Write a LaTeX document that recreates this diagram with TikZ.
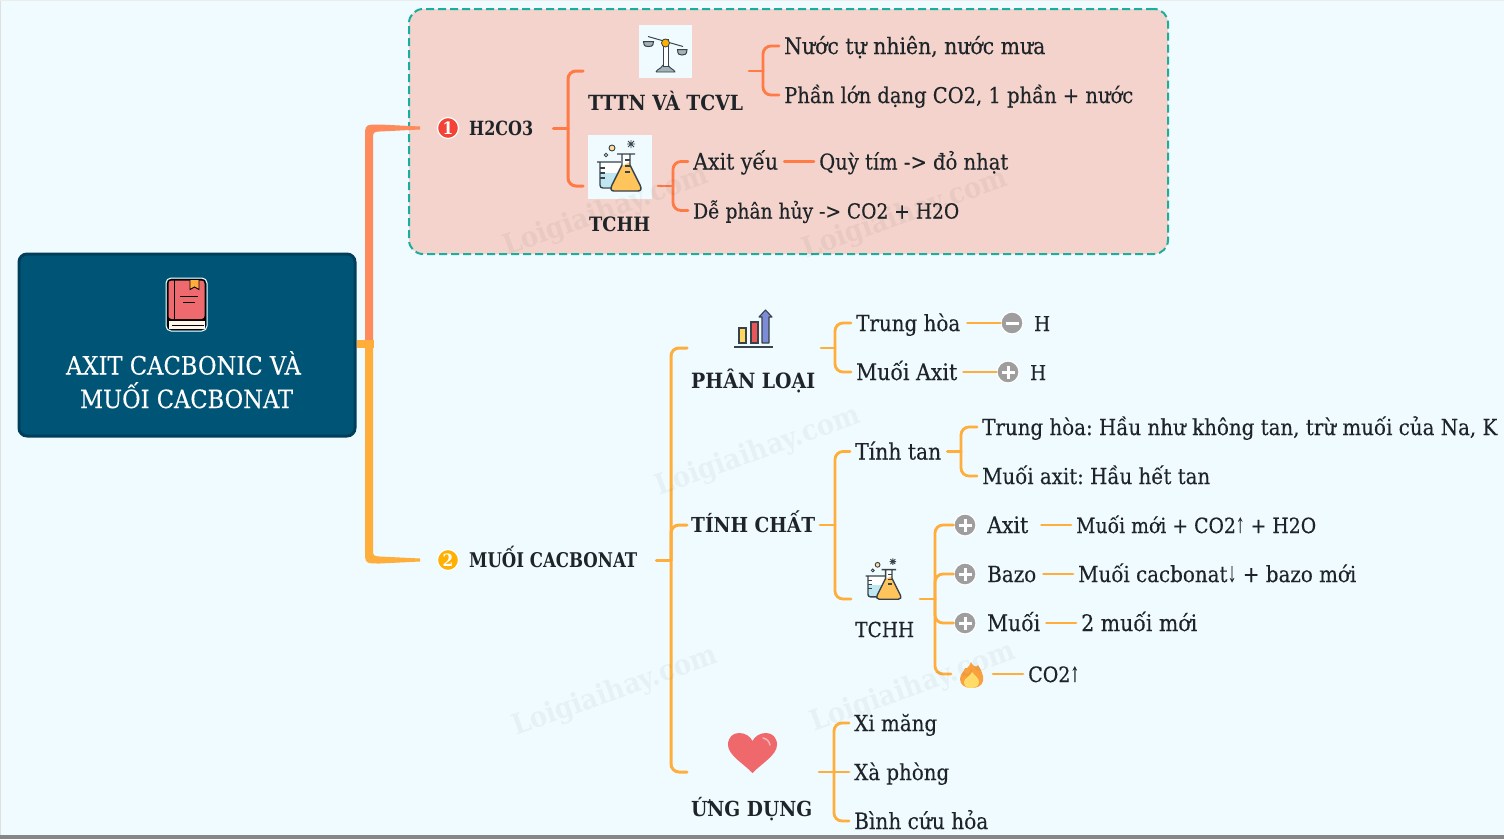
\documentclass[tikz,border=0pt]{standalone}
\usepackage{fontspec}
\usepackage{graphicx}
\setmainfont{DejaVu Serif Condensed}[UprightFeatures={FakeBold=0.25}]
\frenchspacing
\definecolor{bgc}{HTML}{F0FBFF}
\definecolor{boxc}{HTML}{F3D3CB}
\definecolor{teal1}{HTML}{1AAE9F}
\definecolor{rootc}{HTML}{005476}
\definecolor{rootb}{HTML}{003F5C}
\definecolor{up}{HTML}{FF7A45}
\definecolor{upmain}{HTML}{FF8A5B}
\definecolor{down}{HTML}{FFAE3B}
\definecolor{ink}{HTML}{1E2428}
\definecolor{gicon}{HTML}{9E9E9E}
\definecolor{dk}{HTML}{37424A}
\definecolor{flaskfill}{HTML}{FFC45C}
\definecolor{beakerfill}{HTML}{BFE7F2}
\definecolor{bookc}{HTML}{EF6A6E}
\definecolor{chartb}{HTML}{7C8CD6}
\definecolor{chartr}{HTML}{E9575B}
\definecolor{charty}{HTML}{FFD75E}
\definecolor{pan}{HTML}{A3B2B5}
\definecolor{numr}{HTML}{F44336}
\definecolor{numy}{HTML}{FFB000}
\definecolor{flameo}{HTML}{F9A13F}
\definecolor{flamey}{HTML}{FFDC6A}
\definecolor{heartc}{HTML}{EF696C}
\tikzset{
 txt/.style={text=ink,font=\fontsize{20}{24}\selectfont,inner xsep=5pt,inner ysep=0pt,text height=20pt,text depth=4pt,anchor=west},
 btxt/.style={txt,font=\fontsize{20}{24}\selectfont\bfseries},
 rootline/.style={text=white,font=\fontsize{25}{30}\selectfont,inner sep=0pt,anchor=base},
 lnU/.style={draw=up,line width=2.8pt,line cap=round,rounded corners=8pt},
 lnD/.style={draw=down,line width=2.8pt,line cap=round,rounded corners=8pt},
 signicon/.style={circle,fill=gicon,draw=white,line width=1.2pt,minimum size=22pt,inner sep=0pt},
 numicon/.style={circle,draw=white,line width=1.2pt,minimum size=21pt,inner sep=0pt,text=white,font=\fontsize{17}{17}\selectfont\bfseries},
 iconbg/.style={fill=bgc,inner sep=0pt},
 wm/.style={rotate=20,inner sep=0pt,text=black,opacity=.04,font=\fontsize{28}{30}\selectfont\bfseries},
 pics/flask/.style={code={
   \fill[white] (-20,-5) rectangle (0,20);
   \fill[beakerfill] (-20,6) rectangle (0,20);
   \draw[dk,line width=1.4pt,line join=round] (-23,-5) -- (1,-5) (-20,-5) -- (-20,18) .. controls (-20,20) and (-19,21) .. (-17,21) -- (-6,21);
   \draw[dk,line width=1.2pt] (-20,1) -- (-15,1) (-20,6) -- (-15,6) (-20,11) -- (-15,11);
   \fill[white] (2,-13) -- (10,-13) -- (10,-2) -- (2,-2) -- cycle;
   \fill[flaskfill] (2,-1) -- (10,-5) -- (10,-2) -- (20,18) .. controls (22,22) and (21,24) .. (18,24) -- (-6,24) .. controls (-9,24) and (-10,22) .. (-8,18) -- cycle;
   \draw[dk,line width=1.4pt,line join=round] (-3,-13) -- (15,-13) (2,-13) -- (2,-2) -- (-8,18) .. controls (-10,22) and (-9,24) .. (-6,24) -- (18,24) .. controls (21,24) and (22,22) .. (20,18) -- (10,-2) -- (10,-13);
   \draw[dk,line width=1.1pt] (5,-7) -- (10,-7) (5,-1) -- (10,-1) (5,5) -- (10,5);
   \draw[dk,line width=.9pt,fill=flaskfill!60!white] (-8,-19) circle (3);
   \draw[dk,line width=.9pt,fill=white] (-14,-12) circle (1.8);
   \draw[dk,line width=.9pt] (8,-26) -- (14,-20) (14,-26) -- (8,-20) (11,-27) -- (11,-19) (7,-23) -- (15,-23);
 }}
}
\newcommand\Tw[2]{\resizebox{#1pt}{!}{#2}}
\newcommand\Tt[2]{\scalebox{1}[1.1]{\resizebox{#1pt}{!}{#2}}}
\newcommand\Ua{\scalebox{.55}[1]{↑}}
\newcommand\Da{\scalebox{.55}[1]{↓}}
\newcommand\signlines[2]{\draw[white,line width=3pt] ([xshift=-6.5pt]#1.center) -- ([xshift=6.5pt]#1.center);
 \ifnum#2=1 \draw[white,line width=3pt] ([yshift=-6.5pt]#1.center) -- ([yshift=6.5pt]#1.center);\fi}
\begin{document}
\begin{tikzpicture}[x=1pt,y=-1pt]
\useasboundingbox (0,0) rectangle (1504,839);
\fill[bgc] (0,0) rectangle (1504,839);
\fill[gray!25] (0,0) rectangle (1.2,839);
\fill[gray!15] (0,0) rectangle (1504,1);
\fill[gray!95!white] (0,835) rectangle (1504,839);

% dashed region
\node[draw=teal1,fill=boxc,line width=2pt,dash pattern=on 8pt off 4pt,rounded corners=14pt,minimum width=759pt,minimum height=245pt,inner sep=0pt] (region) at (788.5,131.5) {};

% main branches
\coordinate (jm) at (369,344);
\coordinate (b1) at (420,128);
\coordinate (b2) at (420,560);
\begin{scope}[shift={(b1)}]
\fill[upmain] (0,-1.5) -- (-40,-3.5) .. controls (-55,-3.5) and (-55,-3.5) .. (-55,10) -- (-55,212) -- (-47,212) -- (-47,12) .. controls (-47,4) and (-47,4) .. (-40,3.5) -- (0,1.5) -- cycle;
\end{scope}
\begin{scope}[shift={(b2)}]
\fill[down] (0,1.5) -- (-40,3.5) .. controls (-55,3.5) and (-55,3.5) .. (-55,-10) -- (-55,-220) -- (-47,-220) -- (-47,-12) .. controls (-47,-4) and (-47,-4) .. (-40,-3.5) -- (0,-1.5) -- cycle;
\end{scope}

% root
\node[draw=rootb,fill=rootc,line width=3pt,rounded corners=8pt,minimum width=336pt,minimum height=182pt,inner sep=0pt] (root) at (187,345) {};
\fill[down] (root.east |- jm) ++(0,-4) rectangle ++(17,8);
\node[rootline] (rootA) at (183.5,374.5) {\Tw{235}{AXIT CACBONIC VÀ}};
\node[rootline] (rootB) at (186.5,408) {\Tw{213}{MUỐI CACBONAT}};
% book
\draw[white,line width=1pt,rounded corners=5pt] (166,278) rectangle (207,331);
\fill[black,rounded corners=4.5pt] (167,279) rectangle (206,330);
\fill[white!92!orange] (168.5,321) rectangle (204.5,329);
\fill[bookc,rounded corners=3pt] (168.5,280.5) rectangle (204.5,319);
\draw[black,line width=1pt] (174,280) -- (174,319);
\fill[down] (190,280) -- (199,280) -- (199,289.5) -- (194.5,287) -- (190,289.5) -- cycle;
\draw[black,line width=.9pt] (190,280) -- (190,289.5) -- (194.5,287) -- (199,289.5) -- (199,280);
\draw[black,line width=1pt] (180,296.5) -- (198,296.5) (183,302.5) -- (195,302.5);
\draw[black,line width=1pt] (172,325) -- (204,325);

% ---------- H2CO3 ----------
\node[numicon,fill=numr] (n1) at (448,128) {1};
\node[btxt] (h2co3) at (464,127) {\Tt{64}{H2CO3}};
\coordinate (j1) at (568,128);
\coordinate (ttnL) at (583,71);
\coordinate (tchL) at (583,186);
\draw[lnU,line width=3pt] (h2co3.east) ++(15,1) -- (j1);
\draw[lnU,line width=3pt] (j1) |- (ttnL);
\draw[lnU,line width=3pt] (j1) |- (tchL);

\node[iconbg,minimum width=53pt,minimum height=53pt] (scale) at (665.5,51.5) {};
\node[btxt] (ttn) at (583,102) {\Tw{155}{TTTN VÀ TCVL}};
% balance
\fill[pan] (656,72) .. controls (657,69) and (661,69) .. (663,65) -- (668,65) .. controls (670,69) and (674,69) .. (675,72) -- cycle;
\draw[dk,line width=.9pt,line join=round] (656,72) .. controls (657,69) and (661,69) .. (663,65) (668,65) .. controls (670,69) and (674,69) .. (675,72) -- (656,72);
\draw[dk,line width=1pt,fill=white] (663,39) rectangle (668,66);
\draw[dk,line width=1pt] (648,36.5) -- (683,46.5);
\draw[dk,line width=1pt,fill=pan] (643.5,41.5) -- (653.5,41.5) .. controls (653.5,47) and (650,46.5) .. (648.5,46.5) .. controls (647,46.5) and (643.5,47) .. (643.5,41.5) -- cycle;
\draw[dk,line width=1pt,fill=pan] (677.5,49.5) -- (687,49.5) .. controls (687,55) and (684,55) .. (682,55) .. controls (680,55) and (677.5,55) .. (677.5,49.5) -- cycle;
\draw[dk,line width=.8pt,fill=numy] (665.5,43) circle (4);

\node[iconbg,minimum width=64pt,minimum height=64pt] (tchIcon) at (620,167) {};
\pic at (tchIcon.center) {flask};
\node[btxt] (tch) at (584,223) {\Tw{61}{TCHH}};

\coordinate (ttnR) at (749,71);
\coordinate (j2) at (763,71);
\node[txt] (nuoc) at (779,46) {\Tw{261}{Nước tự nhiên, nước mưa}};
\node[txt] (phan) at (779,95) {\Tw{349}{Phần lớn dạng CO2, 1 phần + nước}};
\draw[lnU] (ttnR) -- (j2);
\draw[lnU] (j2) |- (nuoc.west);
\draw[lnU] (j2) |- (phan.west);

\coordinate (tchR) at (658,186);
\coordinate (j3) at (673,186);
\node[txt] (axit) at (688,161.5) {\Tw{85}{Axit yếu}};
\node[txt] (de) at (688,210.5) {\Tw{266}{Dễ phân hủy -> CO2 + H2O}};
\node[txt] (quy) at (814,161.5) {\Tw{189}{Quỳ tím -> đỏ nhạt}};
\draw[lnU] (tchR) -- (j3);
\draw[lnU] (j3) |- (axit.west);
\draw[lnU] (j3) |- (de.west);
\draw[lnU] (axit.east) ++(1,0) -- (quy.west);

% ---------- MUOI CACBONAT ----------
\node[numicon,fill=numy] (n2) at (448,560) {2};
\node[btxt] (muoi) at (464,559) {\Tt{168}{MUỐI CACBONAT}};
\coordinate (j4) at (671,560);
\coordinate (plL) at (687,348);
\coordinate (tcL) at (687,525);
\coordinate (udL) at (687,772);
\draw[lnD,line width=3pt] (muoi.east) ++(14,1) -- (j4);
\draw[lnD,line width=3pt] (j4) |- (plL);
\draw[lnD,line width=3pt] (j4) |- (tcL);
\draw[lnD,line width=3pt] (j4) |- (udL);

\node[btxt] (pl) at (686,380) {\Tw{124}{PHÂN LOẠI}};
\node[btxt] (tc) at (686,524) {\Tw{124}{TÍNH CHẤT}};
\node[btxt] (ud) at (686,808) {\Tw{121}{ỨNG DỤNG}};

% chart icon
\draw[dk,line width=1.2pt] (734,347) -- (773,347);
\draw[dk,line width=1.1pt,fill=charty] (739,328) rectangle (746,343);
\draw[dk,line width=1.1pt,fill=chartr] (751,322) rectangle (758,343);
\draw[dk,line width=1.1pt,fill=chartb,line join=round] (762,343) -- (762,317) -- (759,317) -- (765.5,310) -- (772,317) -- (769,317) -- (769,343) -- cycle;

% heart
\path[fill=heartc] (752.5,773) .. controls (744,764) and (728,755) .. (728,745) .. controls (728,737) and (733,733) .. (739,733) .. controls (745,733) and (750,736) .. (752.5,741) .. controls (755,736) and (760,733) .. (766,733) .. controls (772,733) and (777,737) .. (777,745) .. controls (777,755) and (761,764) .. (752.5,773) -- cycle;
\draw[white,opacity=.5,line width=1.5pt,line cap=round] (763,738) .. controls (767,739) and (769,741) .. (770,745);

% phan loai
\coordinate (plR) at (821,348);
\coordinate (j5) at (835,348);
\node[txt] (th) at (851,323) {\Tw{104}{Trung hòa}};
\node[txt] (ma) at (851,372) {\Tw{101}{Muối Axit}};
\draw[lnD] (plR) -- (j5);
\draw[lnD] (j5) |- (th.west);
\draw[lnD] (j5) |- (ma.west);
\node[signicon] (sgM) at (1012,323) {};
\signlines{sgM}{0}
\node[signicon] (sgP) at (1008,372) {};
\signlines{sgP}{1}
\draw[lnD] (th.east) ++(2,0) -- (sgM.west);
\draw[lnD] (ma.east) ++(1,0) -- (sgP.west);
\node[txt] (hm) at (1029,323) {\Tw{16}{H}};
\node[txt] (hp) at (1025,372) {\Tw{16}{H}};

% tinh chat
\coordinate (j6) at (835,525);
\coordinate (tcR) at (820,525);
\coordinate (tchbL) at (851,599);
\node[txt] (tan) at (850,451.5) {\Tw{86}{Tính tan}};
\draw[lnD] (tcR) -- (j6);
\draw[lnD] (j6) |- (tan.west);
\draw[lnD] (j6) |- (tchbL);
\coordinate (j7) at (961,451.5);
\node[txt] (tha) at (977,427) {\Tw{515}{Trung hòa: Hầu như không tan, trừ muối của Na, K}};
\node[txt] (mua) at (977,476) {\Tw{228}{Muối axit: Hầu hết tan}};
\draw[lnD] (tan.east) ++(1,0) -- (j7);
\draw[lnD] (j7) |- (tha.west);
\draw[lnD] (j7) |- (mua.west);

% TCHH (small)
\pic[scale=.8] at (884,580) {flask};
\node[txt] (tchb) at (850,629) {\Tw{59}{TCHH}};
\coordinate (tchbR) at (920,599);
\coordinate (j8) at (935,599);
\draw[lnD] (tchbR) -- (j8);
\node[signicon] (s1) at (965,525) {};
\signlines{s1}{1}
\node[signicon] (s2) at (965,574) {};
\signlines{s2}{1}
\node[signicon] (s3) at (965,623) {};
\signlines{s3}{1}
% flame
\path[fill=flameo] (971,662) .. controls (974,668) and (977,667) .. (978,665) .. controls (981,670) and (984,675) .. (983,681) .. controls (982,686) and (977,688) .. (971.5,688) .. controls (965,688) and (960,685) .. (960,679) .. controls (960,674) and (964,672) .. (965,668) .. controls (967,669) and (969,667) .. (971,662) -- cycle;
\path[fill=flamey] (972,672) .. controls (975,676) and (979,678) .. (979,682) .. controls (979,686) and (975,688) .. (971.5,688) .. controls (967,688) and (964,686) .. (964,682) .. controls (964,678) and (970,677) .. (972,672) -- cycle;
\coordinate (fireL) at (951,674);
\draw[lnD] (j8) |- (s1.west);
\draw[lnD] (j8) |- (s2.west);
\draw[lnD] (j8) |- (s3.west);
\draw[lnD] (j8) |- (fireL);

\node[txt] (l1) at (982,525) {\Tw{41}{Axit}};
\node[txt] (l2) at (982,574) {\Tw{49}{Bazo}};
\node[txt] (l3) at (982,623) {\Tw{53}{Muối}};
\node[txt] (r1) at (1071,525) {\Tw{240}{Muối mới + CO2\Ua{} + H2O}};
\node[txt] (r2) at (1073,574) {\Tw{278}{Muối cacbonat\Da{} + bazo mới}};
\node[txt] (r3) at (1076,623) {\Tw{116}{2 muối mới}};
\node[txt] (r4) at (1023,674) {\Tw{51}{CO2\Ua}};
\draw[lnD] (l1.east) ++(8,0) -- (r1.west);
\draw[lnD] (l2.east) ++(2,0) -- (r2.west);
\draw[lnD] (l3.east) ++(1,0) -- (r3.west);
\coordinate (fireR) at (993,674);
\draw[lnD] (fireR) -- (r4.west);

% ung dung
\coordinate (udR) at (819,772);
\coordinate (j9) at (834,772);
\node[txt] (x1) at (849,723) {\Tw{83}{Xi măng}};
\node[txt] (x2) at (849,772) {\Tw{95}{Xà phòng}};
\node[txt] (x3) at (849,821) {\Tw{134}{Bình cứu hỏa}};
\draw[lnD] (udR) -- (x2.west);
\draw[lnD] (j9) |- (x1.west);
\draw[lnD] (j9) |- (x3.west);

% watermarks
\node[wm] (w1) at (606,212) {\Tw{215}{Loigiaihay.com}};
\node[wm] (w2) at (905,215) {\Tw{215}{Loigiaihay.com}};
\node[wm] (w3) at (758,452) {\Tw{215}{Loigiaihay.com}};
\node[wm] (w4) at (615,692) {\Tw{215}{Loigiaihay.com}};
\node[wm] (w5) at (913,688) {\Tw{215}{Loigiaihay.com}};
\end{tikzpicture}
\end{document}
